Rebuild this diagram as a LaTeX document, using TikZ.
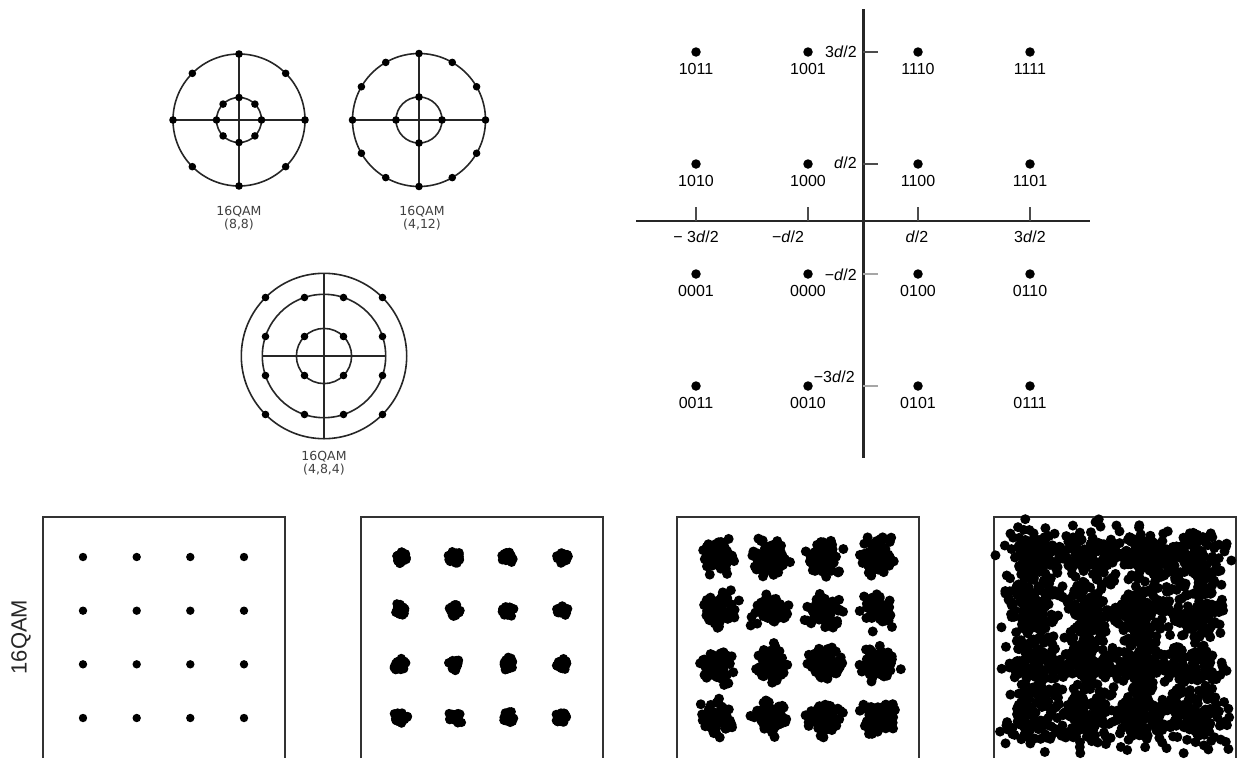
\documentclass[tikz,border=0pt]{standalone}
\usepackage{fontspec}
\setmainfont{Liberation Sans}
\newfontfamily\capsans{DejaVu Sans}
\usetikzlibrary{positioning}

\begin{document}
\begin{tikzpicture}[
  x=1pt, y=-1pt,
  ring/.style={draw=black!85, line width=1.6pt},
  cross/.style={draw=black!85, line width=1.6pt},
  sym/.style={fill=black},
  pnt/.style={circle, fill=black, inner sep=0pt, minimum size=9.5pt},
  bits/.style={font=\fontsize{16}{16}\selectfont, inner sep=1pt},
  ticklab/.style={font=\fontsize{16}{16}\selectfont, inner sep=1pt},
  ringcap/.style={font=\capsans\fontsize{12.5}{13}\selectfont, align=center,
              text=black!75, inner sep=0pt},
  axis/.style={draw=black!85, line width=3pt},
  tickmark/.style={draw=black!70, line width=1.4pt},
  frame/.style={draw=black!80, line width=1.3pt},
]
\useasboundingbox (0,0) rectangle (1237,758);

% ---------------- ring constellations -----------------------------------
\coordinate (c1) at (239, 120);
\coordinate (c2) at (419, 120);
\coordinate (c3) at (324, 356);

% (8,8)
\draw[ring] (c1) circle[radius=66];
\draw[ring] (c1) circle[radius=22.5];
\draw[cross] (c1) ++(-66, 0) -- ++(132, 0);
\draw[cross] (c1) ++(0, -66) -- ++(0, 132);
\foreach \a in {0,45,...,315} {
  \fill[sym] (c1) ++(\a:66) circle[radius=3.8];
  \fill[sym] (c1) ++(\a:22.5) circle[radius=3.8];
}
\node[ringcap] (l1) at (239, 218) {16QAM\\(8,8)};

% (4,12)
\draw[ring] (c2) circle[radius=66.5];
\draw[ring] (c2) circle[radius=23];
\draw[cross] (c2) ++(-66.5, 0) -- ++(133, 0);
\draw[cross] (c2) ++(0, -66.5) -- ++(0, 133);
\foreach \a in {0,30,...,330} {
  \fill[sym] (c2) ++(\a:66.5) circle[radius=3.8];
}
\foreach \a in {0,90,180,270} {
  \fill[sym] (c2) ++(\a:23) circle[radius=3.8];
}
\node[ringcap] (l2) at (422, 218) {16QAM\\(4,12)};

% (4,8,4)
\draw[ring] (c3) circle[radius=82.7];
\draw[ring] (c3) circle[radius=61.7];
\draw[ring] (c3) circle[radius=27.6];
\draw[cross, line width=1.2pt] (c3) ++(-61.7, 0) -- ++(123.4, 0);
\draw[cross, line width=1.2pt] (c3) ++(0, -82.7) -- ++(0, 165.4);
\foreach \u in {-58.5,-19.5,19.5,58.5} {
  \foreach \v in {-58.5,-19.5,19.5,58.5} {
    \fill[sym] (c3) ++(\u, \v) circle[radius=3.8];
  }
}
\node[ringcap] (l3) at (324, 463) {16QAM\\(4,8,4)};

% ---------------- square constellation ----------------------------------
\coordinate (yt) at (863, 9);
\coordinate (yb) at (863, 458);
\coordinate (xl) at (636, 221);
\coordinate (xr) at (1090, 221);
\draw[axis] (yt) -- (yb);
\draw[axis, line width=2.6pt] (xl) -- (xr);

\foreach \y in {52, 164} {
  \draw[tickmark] (863, \y) -- ++(15, 0);
}
\foreach \y in {274, 386} {
  \draw[tickmark, black!35] (863, \y) -- ++(15, 0);
}
\foreach \x in {696, 808, 918, 1030} {
  \draw[tickmark] (\x, 221) -- ++(0, -14);
}

\node[ticklab, anchor=east] (ty1) at (858, 52) {3\textit{d}/2};
\node[ticklab, anchor=east] (ty2) at (858, 163) {\textit{d}/2};
\node[ticklab, anchor=east] (ty3) at (858, 275) {−\textit{d}/2};
\node[ticklab, anchor=east] (ty4) at (856, 377) {−3\textit{d}/2};
\node[ticklab] (tx1) at (696, 237) {− 3\textit{d}/2};
\node[ticklab] (tx2) at (788, 237) {−\textit{d}/2};
\node[ticklab] (tx3) at (917, 237) {\textit{d}/2};
\node[ticklab] (tx4) at (1030, 237) {3\textit{d}/2};

\foreach \x/\y/\b in {696/52/1011, 808/52/1001, 918/52/1110, 1030/52/1111,
                      696/164/1010, 808/164/1000, 918/164/1100, 1030/164/1101,
                      696/274/0001, 808/274/0000, 918/274/0100, 1030/274/0110,
                      696/386/0011, 808/386/0010, 918/386/0101, 1030/386/0111} {
  \node[pnt] (q\b) at (\x, \y) {};
  \node[bits, below=5.5pt of q\b] (b\b) {\b};
}

% ---------------- noisy scatter panels ----------------------------------
\node[rotate=90, font=\fontsize{22}{22}\selectfont, text=black!85] (row)
  at (21, 637) {16QAM};

\pgfmathsetseed{4711}
\foreach \p/\px/\n/\s/\r in {1/43/1/0/4.2, 2/361/45/2.6/4.6,
                             3/677/70/7.8/5, 4/994/110/14/5} {
  \coordinate (f\p) at (\px, 517);
  \draw[frame] (\px, 758) -- (f\p) -- ++(242, 0) -- ++(0, 241);
  \foreach \cx in {40, 93.7, 147.3, 201} {
    \foreach \cy in {40, 93.7, 147.3, 201} {
      \foreach \k in {1,...,\n} {
        \fill[sym] ([shift={(\cx, \cy)}]f\p)
          ++({\s*(rand+rand+rand)}, {\s*(rand+rand+rand)}) circle[radius=\r];
      }
    }
  }
}

\end{tikzpicture}
\end{document}
